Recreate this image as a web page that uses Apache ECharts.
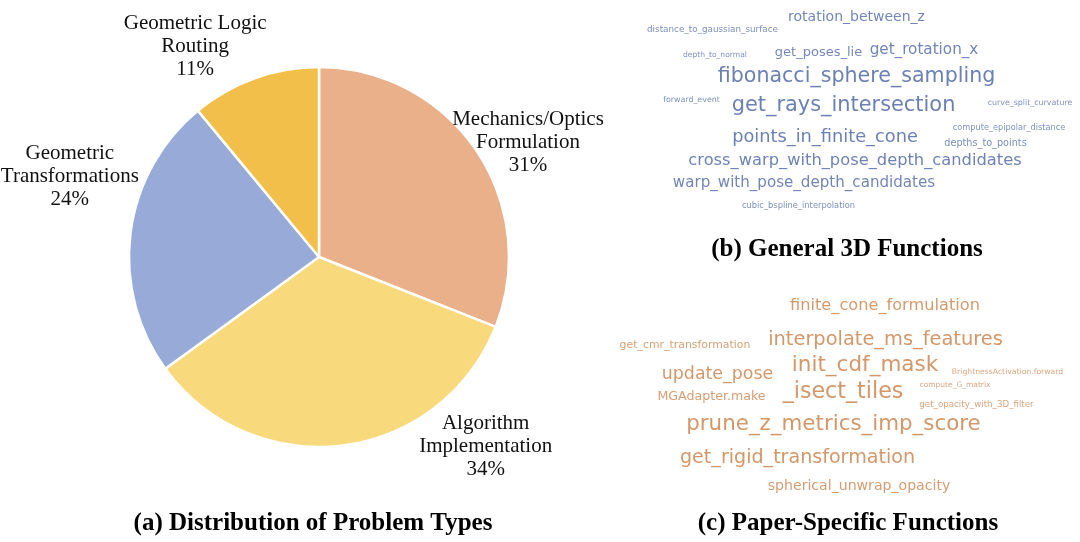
<!DOCTYPE html>
<html>
<head>
<meta charset="utf-8">
<script src="https://cdn.jsdelivr.net/npm/echarts@6/dist/echarts.min.js"></script>
<style>html,body{margin:0;padding:0;background:#fff}#c{width:1080px;height:542px}</style>
</head>
<body>
<div id="c"></div>
<script>
// ---- Pie data ----
const pieCategories = ['Mechanics/Optics\nFormulation', 'Algorithm\nImplementation', 'Geometric\nTransformations', 'Geometric Logic\nRouting'];
const pieValues = [31, 34, 24, 11];
const pieColors = ['#E9B08A', '#F8D97B', '#97AAD8', '#F2C04A'];

// ---- Word cloud (b) General 3D Functions ----
const bWords = ['rotation_between_z', 'distance_to_gaussian_surface', 'depth_to_normal', 'get_poses_lie', 'get_rotation_x',
  'fibonacci_sphere_sampling', 'forward_event', 'get_rays_intersection', 'curve_split_curvature', 'compute_epipolar_distance',
  'points_in_finite_cone', 'depths_to_points', 'cross_warp_with_pose_depth_candidates', 'warp_with_pose_depth_candidates',
  'cubic_bspline_interpolation'];
const bWeights = [14, 8.8, 7.6, 13, 15.2, 20.6, 7.9, 20.9, 7.9, 8.2, 17.8, 9.7, 16.3, 15.1, 8.3];
// layout positions inside panel (b)
const bX = [216.5, 72.5, 75, 178.5, 284, 216.5, 51.5, 203.5, 390, 369, 185, 345.5, 215, 164, 158.5];
const bY = [17, 30, 55, 53, 50, 77, 100, 106, 103, 128, 137, 143, 161, 183, 206];

// ---- Word cloud (c) Paper-Specific Functions ----
const cWords = ['finite_cone_formulation', 'get_cmr_transformation', 'interpolate_ms_features', 'init_cdf_mask',
  'BrightnessActivation.forward', 'update_pose', 'compute_G_matrix', 'MGAdapter.make', '_isect_tiles',
  'get_opacity_with_3D_filter', 'prune_z_metrics_imp_score', 'get_rigid_transformation', 'spherical_unwrap_opacity'];
const cWeights = [16.2, 10.9, 19.4, 21.5, 7.7, 17.4, 7.5, 12.6, 22.2, 8.7, 21.4, 19.1, 14.1];
const cX = [285, 85, 285.5, 265, 407.5, 117.5, 355, 111.5, 243, 376.5, 233.5, 197.5, 259];
const cY = [26, 65, 60, 85, 92, 94, 105, 117, 112, 125, 144, 178, 206];

// ---- Titles ----
const titles = ['(a) Distribution of Problem Types', '(b) General 3D Functions', '(c) Paper-Specific Functions'];

// label placement (polar from pie centre: angle deg, distance px)
const labelPolar = [[28.8, 238.5], [-48.6, 252], [162, 262], [120.5, 244]];
const pieCenter = [319, 257];
const pieRadius = 190;

function shade(base, light, w, wmin, wmax) {
  const t = Math.max(0, Math.min(1, (w - wmin) / (wmax - wmin)));
  const p = h => [1, 3, 5].map(i => parseInt(h.substr(i, 2), 16));
  const a = p(light), b = p(base);
  return 'rgb(' + a.map((v, i) => Math.round(v + (b[i] - v) * t)).join(',') + ')';
}

function cloudData(words, weights, xs, ys, base, light) {
  return words.map((w, i) => ({
    name: w,
    value: [xs[i], ys[i], weights[i]],
    label: { fontSize: weights[i], color: shade(base, light, weights[i], 7.5, 18) }
  }));
}

const chart = echarts.init(document.getElementById('c'), null, { renderer: 'canvas' });

const hiddenAxis = (min, max, inverse) => ({
  type: 'value', min, max, inverse, show: false, splitLine: { show: false }
});

const titleStyle = { fontFamily: 'Liberation Serif', fontWeight: 'bold', fontSize: 25, color: '#000' };

const option = {
  backgroundColor: '#ffffff',
  animation: false,
  title: [
    { text: titles[0], left: 308, top: 506, textAlign: 'center', textStyle: titleStyle },
    { text: titles[1], left: 842, top: 232, textAlign: 'center', textStyle: titleStyle },
    { text: titles[2], left: 843, top: 506, textAlign: 'center', textStyle: titleStyle }
  ],
  grid: [
    { left: 640, top: 0, width: 440, height: 220 },
    { left: 600, top: 280, width: 480, height: 230 }
  ],
  xAxis: [
    Object.assign(hiddenAxis(0, 440, false), { gridIndex: 0 }),
    Object.assign(hiddenAxis(0, 480, false), { gridIndex: 1 })
  ],
  yAxis: [
    Object.assign(hiddenAxis(0, 220, true), { gridIndex: 0 }),
    Object.assign(hiddenAxis(0, 230, true), { gridIndex: 1 })
  ],
  series: [
    {
      type: 'pie',
      center: pieCenter,
      radius: pieRadius,
      startAngle: 90,
      clockwise: true,
      silent: true,
      itemStyle: { borderColor: '#ffffff', borderWidth: 2.5 },
      label: {
        show: true,
        position: 'outside',
        alignTo: 'none',
        overflow: 'none',
        width: 300,
        formatter: p => p.name + '\n' + Math.round(p.percent) + '%',
        fontFamily: 'Liberation Serif',
        fontSize: 21,
        lineHeight: 23,
        color: '#111',
        align: 'center'
      },
      labelLine: { show: false },
      labelLayout: params => {
        const lp = labelPolar[params.dataIndex];
        const a = lp[0] * Math.PI / 180;
        return {
          x: pieCenter[0] + lp[1] * Math.cos(a),
          y: pieCenter[1] - lp[1] * Math.sin(a),
          align: 'center',
          verticalAlign: 'middle'
        };
      },
      data: pieCategories.map((n, i) => ({ name: n, value: pieValues[i], itemStyle: { color: pieColors[i] } }))
    },
    {
      type: 'scatter',
      xAxisIndex: 0, yAxisIndex: 0,
      symbolSize: 0,
      silent: true,
      label: {
        show: true, position: 'inside', formatter: p => p.name,
        fontFamily: 'DejaVu Sans', align: 'center', verticalAlign: 'middle'
      },
      data: cloudData(bWords, bWeights, bX, bY, '#4660A0', '#5F75AF')
    },
    {
      type: 'scatter',
      xAxisIndex: 1, yAxisIndex: 1,
      symbolSize: 0,
      silent: true,
      label: {
        show: true, position: 'inside', formatter: p => p.name,
        fontFamily: 'DejaVu Sans', align: 'center', verticalAlign: 'middle'
      },
      data: cloudData(cWords, cWeights, cX, cY, '#C87D43', '#D08D5E')
    }
  ]
};
chart.setOption(option);
</script>
</body>
</html>
